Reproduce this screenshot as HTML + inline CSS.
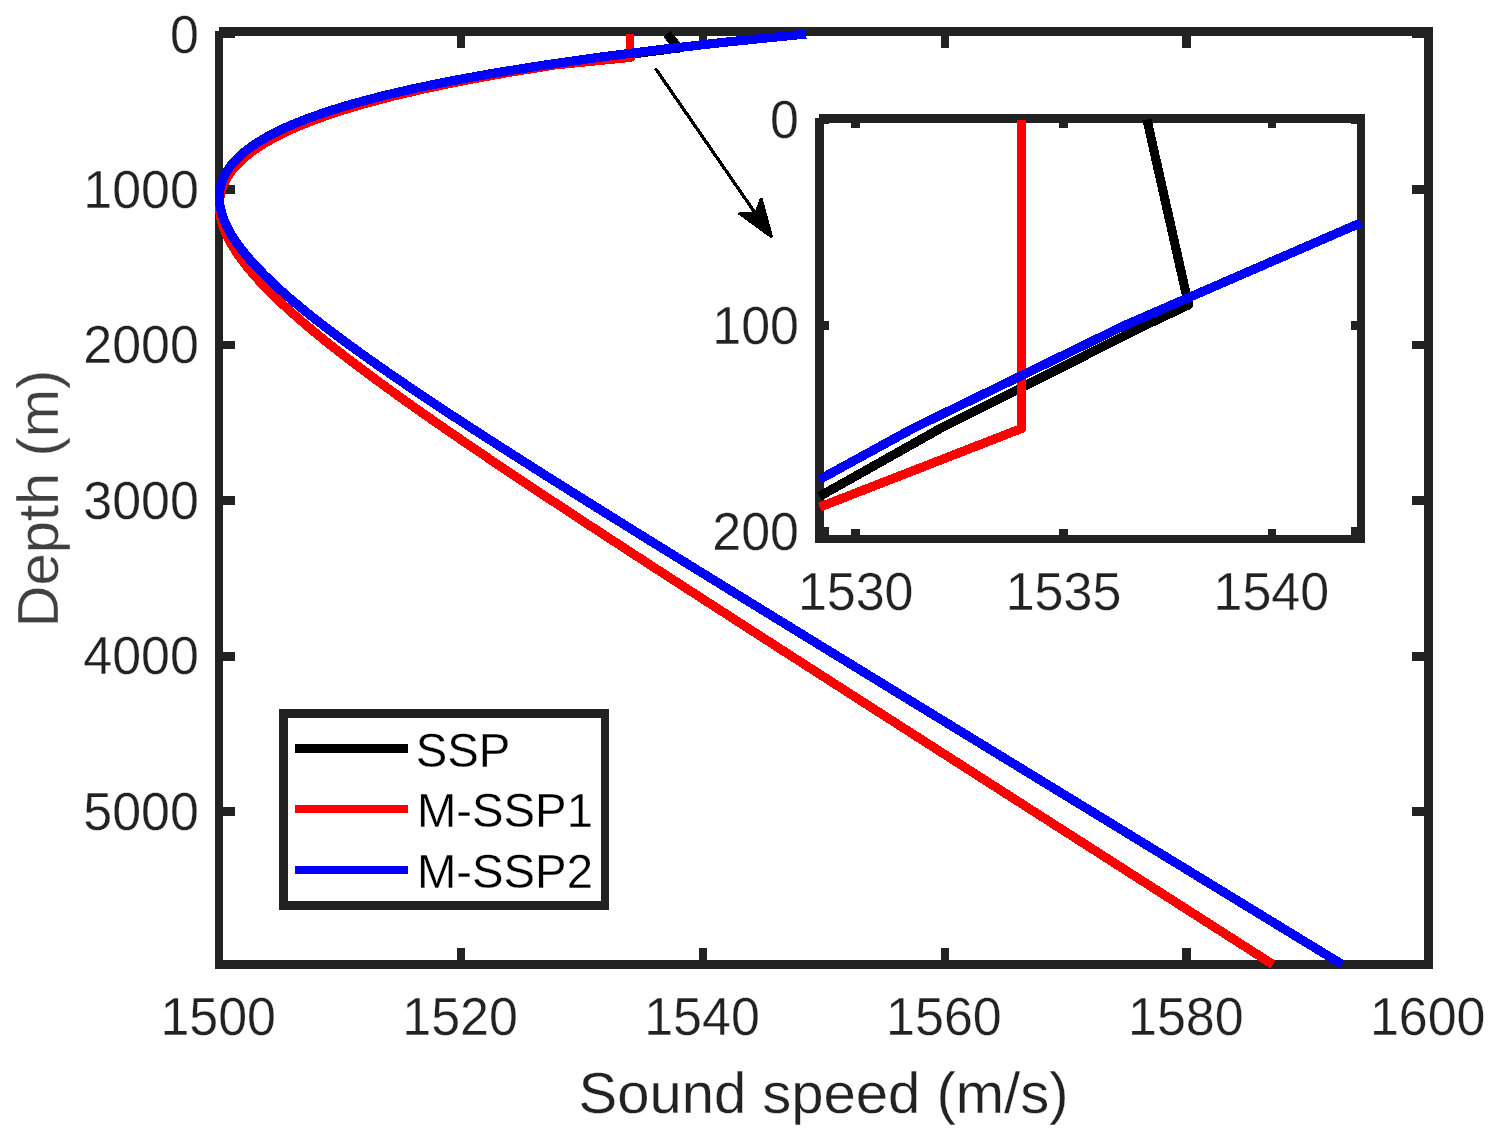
<!DOCTYPE html>
<html lang="en">
<head>
<meta charset="utf-8">
<title>Sound speed profiles</title>
<style>
html,body{margin:0;padding:0;background:#ffffff;}
body{width:1503px;height:1146px;overflow:hidden;}
svg{display:block;}
svg text{font-family:"Liberation Sans","DejaVu Sans",sans-serif;stroke:#ffffff;stroke-width:0.3;}
</style>
</head>
<body>
<svg width="1503" height="1146" viewBox="0 0 1503 1146">
<rect x="0" y="0" width="1503" height="1146" fill="#ffffff"/>
<g shape-rendering="crispEdges">
<rect x="215" y="31" width="8" height="938" fill="#222222"/>
<rect x="1424" y="27" width="9" height="942" fill="#222222"/>
<rect x="219" y="27" width="1214" height="9" fill="#222222"/>
<rect x="215" y="960" width="1218" height="9" fill="#222222"/>
<rect x="219" y="29" width="16" height="9" fill="#222222"/>
<rect x="1412" y="29" width="16" height="9" fill="#222222"/>
<rect x="219" y="185" width="16" height="9" fill="#222222"/>
<rect x="1412" y="185" width="16" height="9" fill="#222222"/>
<rect x="219" y="341" width="16" height="8" fill="#222222"/>
<rect x="1412" y="341" width="16" height="8" fill="#222222"/>
<rect x="219" y="496" width="16" height="9" fill="#222222"/>
<rect x="1412" y="496" width="16" height="9" fill="#222222"/>
<rect x="219" y="652" width="16" height="9" fill="#222222"/>
<rect x="1412" y="652" width="16" height="9" fill="#222222"/>
<rect x="219" y="807" width="16" height="9" fill="#222222"/>
<rect x="1412" y="807" width="16" height="9" fill="#222222"/>
<rect x="457" y="948" width="8" height="16" fill="#222222"/>
<rect x="457" y="31" width="8" height="17" fill="#222222"/>
<rect x="699" y="948" width="8" height="16" fill="#222222"/>
<rect x="699" y="31" width="8" height="17" fill="#222222"/>
<rect x="941" y="948" width="8" height="16" fill="#222222"/>
<rect x="941" y="31" width="8" height="17" fill="#222222"/>
<rect x="1182" y="948" width="9" height="16" fill="#222222"/>
<rect x="1182" y="31" width="9" height="17" fill="#222222"/>
</g>
<g shape-rendering="crispEdges">
<path d="M666.82 34.00 L678.91 47.99 L666.22 49.55 L606.79 57.33 L553.59 65.10 L506.06 72.88" fill="none" stroke="#000000" stroke-width="9.15" stroke-linejoin="round" stroke-linecap="butt"/>
<clipPath id="rc"><path d="M0 0H634V50H1503V1146H0Z"/></clipPath>
<path d="M630.53 34.00 L630.53 57.33 L553.59 65.10 L506.06 72.88 L463.72 80.65 L426.12 88.42 L392.84 96.20 L363.50 103.97 L337.78 111.75 L315.34 119.53 L295.91 127.30 L279.23 135.07 L265.05 142.85 L253.16 150.62 L243.36 158.40 L235.47 166.18 L229.32 173.95 L224.76 181.72 L221.65 189.50 L219.87 197.28 L219.30 205.05 L219.84 212.82 L221.38 220.60 L223.85 228.38 L227.16 236.15 L231.24 243.93 L236.02 251.70 L241.44 259.48 L247.45 267.25 L253.99 275.02 L261.02 282.80 L268.49 290.57 L276.37 298.35 L284.62 306.12 L293.21 313.90 L302.12 321.68 L311.30 329.45 L320.74 337.23 L330.42 345.00 L340.31 352.77 L350.40 360.55 L360.67 368.32 L371.11 376.10 L381.69 383.88 L392.41 391.65 L403.25 399.43 L414.21 407.20 L425.27 414.98 L436.43 422.75 L447.68 430.52 L459.00 438.30 L470.39 446.07 L481.86 453.85 L493.38 461.62 L504.95 469.40 L516.58 477.18 L528.25 484.95 L539.97 492.73 L551.72 500.50 L563.51 508.27 L575.33 516.05 L587.18 523.83 L599.06 531.60 L610.96 539.38 L622.88 547.15 L634.82 554.92 L646.78 562.70 L658.76 570.48 L670.75 578.25 L682.76 586.02 L694.78 593.80 L706.82 601.58 L718.86 609.35 L730.91 617.12 L742.97 624.90 L755.04 632.67 L767.12 640.45 L779.20 648.23 L791.29 656.00 L803.39 663.77 L815.49 671.55 L827.60 679.33 L839.71 687.10 L851.82 694.88 L863.94 702.65 L876.06 710.42 L888.18 718.20 L900.31 725.98 L912.44 733.75 L924.57 741.52 L936.70 749.30 L948.84 757.08 L960.98 764.85 L973.11 772.62 L985.26 780.40 L997.40 788.17 L1009.54 795.95 L1021.68 803.73 L1033.83 811.50 L1045.97 819.27 L1058.12 827.05 L1070.27 834.83 L1082.42 842.60 L1094.56 850.38 L1106.71 858.15 L1118.86 865.92 L1131.01 873.70 L1143.17 881.48 L1155.32 889.25 L1167.47 897.02 L1179.62 904.80 L1191.77 912.58 L1203.92 920.35 L1216.08 928.12 L1228.23 935.90 L1240.38 943.67 L1252.54 951.45 L1264.69 959.23 L1272.94 964.50" fill="none" stroke="#ff0000" stroke-width="9.15" stroke-linejoin="round" stroke-linecap="butt" clip-path="url(#rc)"/>
<path d="M806.16 34.00 L729.14 41.77 L660.28 49.55 L598.83 57.33 L544.11 65.10 L495.53 72.88 L452.51 80.65 L414.56 88.42 L381.22 96.20 L352.06 103.97 L326.70 111.75 L304.81 119.53 L286.06 127.30 L270.17 135.07 L256.88 142.85 L245.96 150.62 L237.18 158.40 L230.36 166.18 L225.32 173.95 L221.89 181.72 L219.93 189.50 L219.30 197.28 L219.89 205.05 L221.58 212.82 L224.27 220.60 L227.88 228.38 L232.31 236.15 L237.50 243.93 L243.38 251.70 L249.88 259.48 L256.94 267.25 L264.52 275.02 L272.57 282.80 L281.04 290.57 L289.90 298.35 L299.12 306.12 L308.65 313.90 L318.47 321.68 L328.56 329.45 L338.89 337.23 L349.43 345.00 L360.18 352.77 L371.11 360.55 L382.20 368.32 L393.44 376.10 L404.81 383.88 L416.31 391.65 L427.92 399.43 L439.64 407.20 L451.44 414.98 L463.33 422.75 L475.30 430.52 L487.34 438.30 L499.44 446.07 L511.59 453.85 L523.80 461.62 L536.06 469.40 L548.36 477.18 L560.70 484.95 L573.08 492.73 L585.49 500.50 L597.92 508.27 L610.39 516.05 L622.88 523.83 L635.39 531.60 L647.92 539.38 L660.47 547.15 L673.04 554.92 L685.62 562.70 L698.22 570.48 L710.83 578.25 L723.45 586.02 L736.08 593.80 L748.72 601.58 L761.37 609.35 L774.02 617.12 L786.69 624.90 L799.36 632.67 L812.03 640.45 L824.71 648.23 L837.40 656.00 L850.09 663.77 L862.78 671.55 L875.48 679.33 L888.18 687.10 L900.89 694.88 L913.59 702.65 L926.30 710.42 L939.01 718.20 L951.73 725.98 L964.44 733.75 L977.16 741.52 L989.88 749.30 L1002.60 757.08 L1015.32 764.85 L1028.04 772.62 L1040.77 780.40 L1053.49 788.17 L1066.22 795.95 L1078.95 803.73 L1091.67 811.50 L1104.40 819.27 L1117.13 827.05 L1129.86 834.83 L1142.59 842.60 L1155.32 850.38 L1168.05 858.15 L1180.78 865.92 L1193.51 873.70 L1206.24 881.48 L1218.97 889.25 L1231.70 897.02 L1244.43 904.80 L1257.17 912.58 L1269.90 920.35 L1282.63 928.12 L1295.36 935.90 L1308.10 943.67 L1320.83 951.45 L1333.56 959.23 L1342.20 964.50" fill="none" stroke="#0000ff" stroke-width="9.15" stroke-linejoin="round" stroke-linecap="butt"/>
</g>
<g shape-rendering="crispEdges">
<rect x="279" y="709" width="330" height="201" fill="#222222"/>
<rect x="288" y="718" width="313" height="183" fill="#ffffff"/>
<rect x="295" y="744" width="113" height="9" fill="#000000"/>
<rect x="295" y="805" width="113" height="8" fill="#ff0000"/>
<rect x="295" y="866" width="113" height="8" fill="#0000ff"/>
</g>
<g shape-rendering="crispEdges">
<rect x="815" y="118" width="9" height="425" fill="#222222"/>
<rect x="1357" y="114" width="8" height="429" fill="#222222"/>
<rect x="819" y="114" width="546" height="9" fill="#222222"/>
<rect x="815" y="535" width="550" height="8" fill="#222222"/>
<rect x="820" y="115" width="9" height="9" fill="#222222"/>
<rect x="1351" y="115" width="10" height="9" fill="#222222"/>
<rect x="820" y="321" width="9" height="9" fill="#222222"/>
<rect x="1351" y="321" width="10" height="9" fill="#222222"/>
<rect x="820" y="527" width="9" height="9" fill="#222222"/>
<rect x="1351" y="527" width="10" height="9" fill="#222222"/>
<rect x="851" y="119" width="9" height="9" fill="#222222"/>
<rect x="851" y="529" width="9" height="10" fill="#222222"/>
<rect x="1059" y="119" width="9" height="9" fill="#222222"/>
<rect x="1059" y="529" width="9" height="10" fill="#222222"/>
<rect x="1268" y="119" width="8" height="9" fill="#222222"/>
<rect x="1268" y="529" width="8" height="10" fill="#222222"/>
</g>
<g shape-rendering="crispEdges">
<path d="M1146.95 119.50 L1188.60 304.90 L1144.91 325.50 L940.27 428.50 L819.60 496.33" fill="none" stroke="#000000" stroke-width="9.15" stroke-linejoin="round" stroke-linecap="butt"/>
<path d="M1021.45 119.50 L1021.45 428.50 L819.60 507.13" fill="none" stroke="#ff0000" stroke-width="9.15" stroke-linejoin="round" stroke-linecap="butt"/>
<path d="M1361.30 222.62 L1124.44 325.50 L912.83 428.50 L819.60 479.47" fill="none" stroke="#0000ff" stroke-width="9.15" stroke-linejoin="round" stroke-linecap="butt"/>
</g>
<g shape-rendering="crispEdges">
<line x1="655.40" y1="68.40" x2="755.72" y2="213.84" stroke="#000" stroke-width="3.3"/>
<polygon points="771.90,237.30 738.93,213.27 755.72,213.84 761.15,197.94" fill="#000" stroke="#000" stroke-width="2.6" stroke-linejoin="bevel"/>
</g>
<text transform="translate(198.9 53) scale(1 1.025)" font-size="52px" text-anchor="end" fill="#222222">0</text>
<text transform="translate(198.9 207.5) scale(1 1.025)" font-size="52px" text-anchor="end" fill="#222222">1000</text>
<text transform="translate(198.9 363) scale(1 1.025)" font-size="52px" text-anchor="end" fill="#222222">2000</text>
<text transform="translate(198.9 518.5) scale(1 1.025)" font-size="52px" text-anchor="end" fill="#222222">3000</text>
<text transform="translate(198.9 674) scale(1 1.025)" font-size="52px" text-anchor="end" fill="#222222">4000</text>
<text transform="translate(198.9 829.5) scale(1 1.025)" font-size="52px" text-anchor="end" fill="#222222">5000</text>
<text transform="translate(218.2 1034.8) scale(1 1.025)" font-size="52px" text-anchor="middle" fill="#222222">1500</text>
<text transform="translate(460.1 1034.8) scale(1 1.025)" font-size="52px" text-anchor="middle" fill="#222222">1520</text>
<text transform="translate(702 1034.8) scale(1 1.025)" font-size="52px" text-anchor="middle" fill="#222222">1540</text>
<text transform="translate(943.9 1034.8) scale(1 1.025)" font-size="52px" text-anchor="middle" fill="#222222">1560</text>
<text transform="translate(1185.8 1034.8) scale(1 1.025)" font-size="52px" text-anchor="middle" fill="#222222">1580</text>
<text transform="translate(1427.7 1034.8) scale(1 1.025)" font-size="52px" text-anchor="middle" fill="#222222">1600</text>
<text transform="translate(799 138.3) scale(1 1.025)" font-size="52px" text-anchor="end" fill="#222222">0</text>
<text transform="translate(799 344.3) scale(1 1.025)" font-size="52px" text-anchor="end" fill="#222222">100</text>
<text transform="translate(799 550.3) scale(1 1.025)" font-size="52px" text-anchor="end" fill="#222222">200</text>
<text transform="translate(855.7 610) scale(1 1.025)" font-size="52px" text-anchor="middle" fill="#222222">1530</text>
<text transform="translate(1063.5 610) scale(1 1.025)" font-size="52px" text-anchor="middle" fill="#222222">1535</text>
<text transform="translate(1271.3 610) scale(1 1.025)" font-size="52px" text-anchor="middle" fill="#222222">1540</text>
<text x="823.5" y="1113" font-size="58px" text-anchor="middle" fill="#222222">Sound speed (m/s)</text>
<text transform="translate(57.6 498.6) rotate(-90)" font-size="58px" text-anchor="middle" fill="#404040">Depth (m)</text>
<text transform="translate(415.7 767) scale(1 1.025)" font-size="47.3px" text-anchor="start" fill="#000000">SSP</text>
<text transform="translate(416.9 827) scale(1 1.025)" font-size="47.3px" text-anchor="start" fill="#000000">M-SSP1</text>
<text transform="translate(416.9 888) scale(1 1.025)" font-size="47.3px" text-anchor="start" fill="#000000">M-SSP2</text>
</svg>
</body>
</html>
